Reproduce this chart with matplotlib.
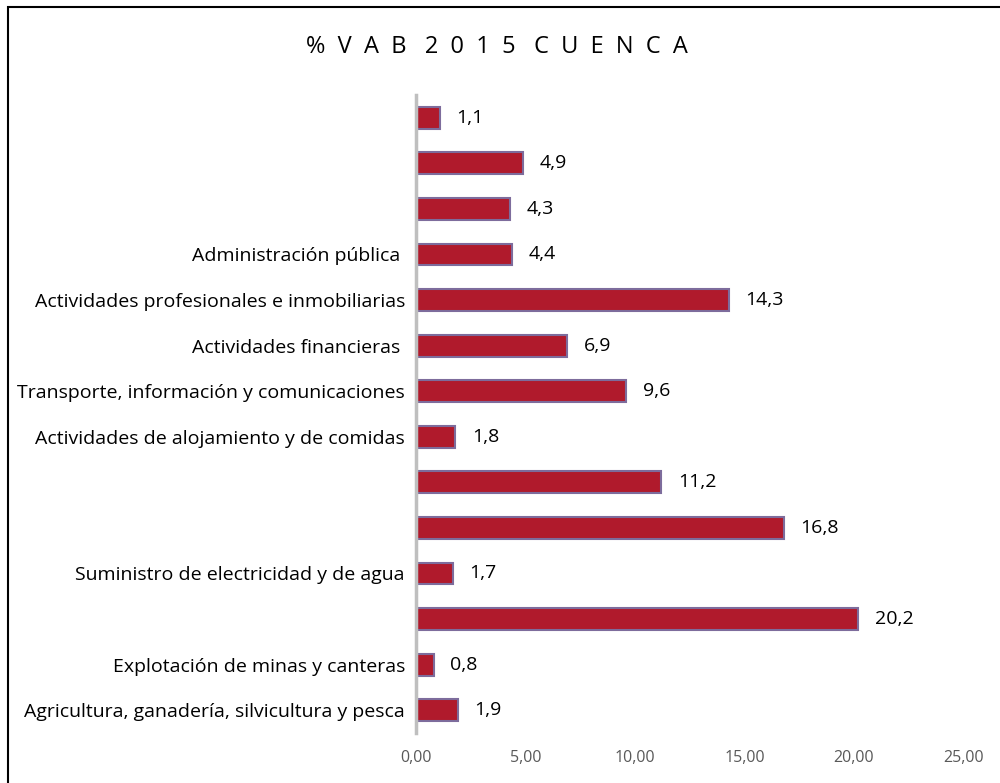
import matplotlib.pyplot as plt
from matplotlib.patches import Rectangle

# Categories listed from bottom to top (blank = label missing in source chart)
categories = [
    'Agricultura, ganadería, silvicultura y pesca',
    'Explotación de minas y canteras',
    '',
    'Suministro de electricidad y de agua',
    '',
    '',
    'Actividades de alojamiento y de comidas',
    'Transporte, información y comunicaciones',
    'Actividades financieras ',
    'Actividades profesionales e inmobiliarias',
    'Administración pública ',
    '',
    '',
    '',
]
values = [1.9, 0.8, 20.2, 1.7, 16.8, 11.2, 1.8, 9.6, 6.9, 14.3, 4.4, 4.3, 4.9, 1.1]
xticks = [0, 5, 10, 15, 20, 25]

plt.rcParams['font.family'] = ['Open Sans', 'DejaVu Sans']

fig = plt.figure(figsize=(10, 7.83), dpi=100)
ax = fig.add_axes([0.416, 0.0639, 0.5475, 0.8148])

# Outer frame of the chart area
fig.patches.append(Rectangle((0.008, -0.05), 1.1, 1.041, transform=fig.transFigure,
                             fill=False, edgecolor='black', linewidth=1.5))

y = list(range(len(values)))
ax.barh(y, values, height=0.48, color='#B01A2C', edgecolor='#7D6C9C', linewidth=1.5)

for yi, v in zip(y, values):
    ax.text(v + 0.75, yi, f'{v:.1f}'.replace('.', ','), va='center', ha='left',
            fontsize=14, color='black')

ax.set_xlim(0, 25)
ax.set_ylim(-0.5, len(values) - 0.5)
ax.set_yticks(y)
ax.set_yticklabels(categories, fontsize=14)
ax.set_xticks(xticks)
ax.set_xticklabels([f'{t:.2f}'.replace('.', ',') for t in xticks], fontsize=11.5, color='#595959')
ax.tick_params(axis='both', length=0)
ax.tick_params(axis='y', pad=8)
ax.tick_params(axis='x', pad=12)

for s in ['top', 'right', 'bottom']:
    ax.spines[s].set_visible(False)
ax.spines['left'].set_color('#BFBFBF')
ax.spines['left'].set_linewidth(2.5)

fig.text(0.497, 0.94, '%  V  A  B   2  0  1  5   C  U  E  N  C  A', ha='center', va='center',
         fontsize=17, color='black')

fig.savefig('out.png', dpi=100)
